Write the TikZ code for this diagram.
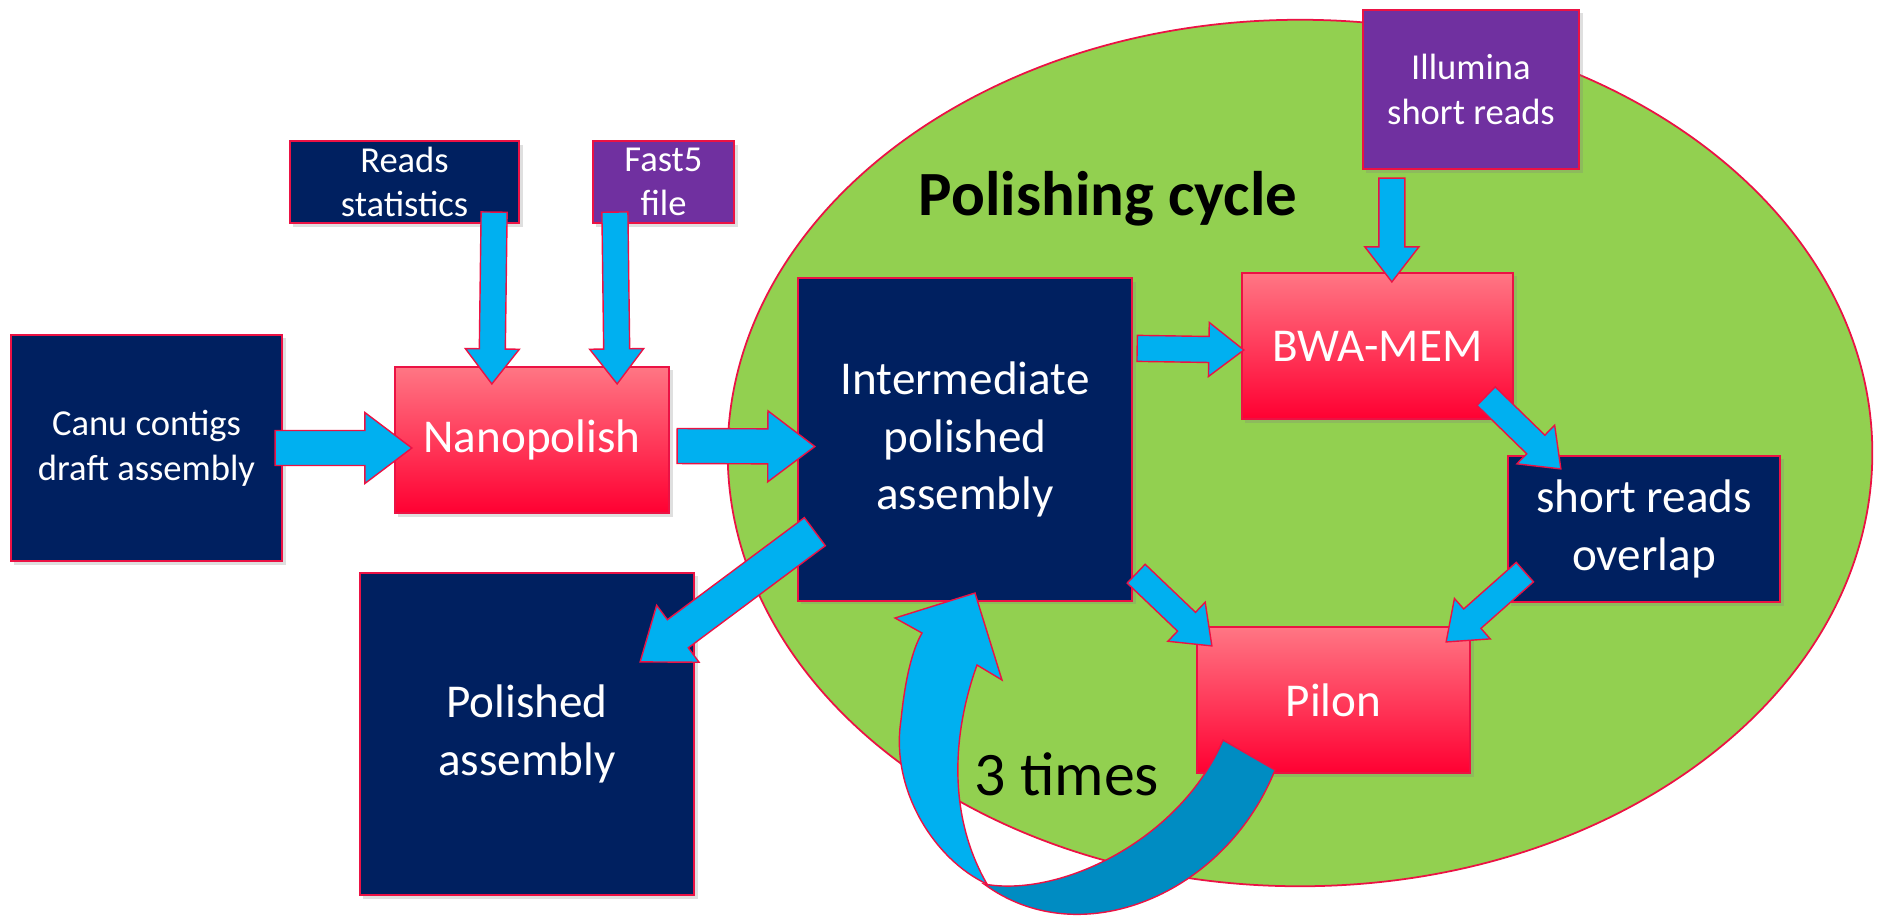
\documentclass[tikz,border=0pt]{standalone}
\usepackage{fontspec}
\setmainfont{Carlito}
\usepackage{tikz}
\usetikzlibrary{calc}
\usetikzlibrary{shapes.geometric,positioning,shadows}
\definecolor{navy}{RGB}{0,32,96}
\definecolor{plum}{RGB}{112,48,160}
\definecolor{skyblue}{RGB}{0,176,240}
\definecolor{deepsky}{RGB}{0,140,194}
\definecolor{leaf}{RGB}{146,208,80}
\definecolor{rim}{RGB}{235,18,68}
\definecolor{pinktop}{RGB}{255,118,132}
\definecolor{pinkbot}{RGB}{255,0,50}
\tikzset{
    boxbase/.style={
        rectangle,
        draw=rim,
        line width=0.6pt,
        inner sep=0pt,
        text=white,
        align=center,
        drop shadow={shadow xshift=1pt, shadow yshift=-1pt, opacity=0.25}
    },
    navybox/.style={boxbase, fill=navy},
    plumbox/.style={boxbase, fill=plum},
    pinkbox/.style={boxbase, top color=pinktop, bottom color=pinkbot},
    smalltext/.style={font=\fontsize{10.4}{12.7}\selectfont},
    bigtext/.style={font=\fontsize{13.4}{16.3}\selectfont},
    % the green cycle area
    cyclezone/.style={
        ellipse,
        draw=rim,
        fill=leaf,
        line width=0.5pt,
        inner sep=0pt
    },
    % fat blue arrows
    bluearrow/.style={
        fill=skyblue,
        draw=rim,
        line width=0.4pt,
        line join=miter
    }
}
% tail, tip, half shaft, half head, head length
\newcommand{\blockarrow}[5]{%
    \coordinate (ba-s) at (#1);
    \coordinate (ba-t) at (#2);
    \coordinate (ba-h) at ($(ba-t)!#5!(ba-s)$);
    \draw[bluearrow] ($(ba-s)!#3!90:(ba-t)$) -- ($(ba-h)!#3!90:(ba-t)$)
        -- ($(ba-h)!#4!90:(ba-t)$) -- (ba-t) -- ($(ba-h)!#4!-90:(ba-t)$)
        -- ($(ba-h)!#3!-90:(ba-t)$) -- ($(ba-s)!#3!-90:(ba-t)$) -- cycle;
}
\newcommand{\bigarrow}[2]{\blockarrow{#1}{#2}{0.175cm}{0.355cm}{0.47cm}}
\newcommand{\smallarrow}[2]{\blockarrow{#1}{#2}{0.13cm}{0.27cm}{0.35cm}}

\begin{document}
\begin{tikzpicture}[x=0.01cm, y=-0.01cm]
    \useasboundingbox[fill=white] (0,0) rectangle (1881,920);
    \node[cyclezone, minimum width=11.44cm, minimum height=8.66cm] (cycle) at (1300,453) {};
    \node[font=\fontsize{17.9}{20}\selectfont\bfseries, anchor=base] (cycletitle) at (1108,215) {Polishing cycle};

    \node[navybox, smalltext, minimum width=2.71cm, minimum height=2.26cm] (canu) at (146.5,448) {Canu contigs\\draft assembly};
    \node[navybox, smalltext, minimum width=2.29cm, minimum height=0.82cm] (reads) at (404.5,182) {Reads\\statistics};
    \node[plumbox, smalltext, minimum width=1.41cm, minimum height=0.82cm] (fast5) at (663.5,182) {Fast5\\file};
    \node[pinkbox, bigtext, minimum width=2.74cm, minimum height=1.46cm] (nano) at (532,440) {Nanopolish};
    \node[navybox, bigtext, minimum width=3.34cm, minimum height=3.22cm] (inter) at (965,439.5) {Intermediate\\polished\\assembly};
    \node[navybox, bigtext, minimum width=3.34cm, minimum height=3.22cm] (polished) at (527,734) {Polished\\assembly};
    \node[plumbox, smalltext, minimum width=2.16cm, minimum height=1.59cm] (illumina) at (1471,89.5) {Illumina\\short reads};
    \node[pinkbox, bigtext, minimum width=2.71cm, minimum height=1.46cm] (bwa) at (1377.5,346) {BWA-MEM};
    \node[navybox, bigtext, minimum width=2.72cm, minimum height=1.46cm] (short) at (1644,529) {short reads\\overlap};
    \node[pinkbox, bigtext, minimum width=2.73cm, minimum height=1.46cm] (pilon) at (1333.5,700) {Pilon};

    % into Nanopolish
    \bigarrow{$(canu.east)+(-8,0)$}{$(canu.east -| nano.west)+(18,0)$}
    \smallarrow{$(reads.south east)+(-26,-12)$}{$(nano.north west)+(98,18)$}
    \smallarrow{$(fast5.south west)+(23,-12)$}{$(nano.north east)+(-53,18)$}
    \bigarrow{$(nano.east)+(7,6)$}{$(inter.west)+(18,7)$}
    % the cycle
    \smallarrow{$(inter.north east)+(4,71)$}{$(bwa.west)+(3,4)$}
    \smallarrow{$(illumina.south west)+(30,8)$}{$(bwa.north west)+(151,10)$}
    \smallarrow{$(bwa.south east)+(-28,-24)$}{$(short.north west)+(54,14)$}
    \smallarrow{$(inter.south east)+(3,-28)$}{$(pilon.north west)+(16,20)$}
    \smallarrow{$(short.south west)+(18,-31)$}{$(pilon.north east)+(-25,16)$}
    \bigarrow{$(inter.south west)+(18,-70)$}{$(polished.north east)+(-55,90)$}

    % loop back from Pilon
    \draw[bluearrow, fill=deepsky] (984,884) .. controls (1060,898) and (1180,840) .. (1223,740)
        -- (1275,770) .. controls (1225,895) and (1080,955) .. (984,884) -- cycle;
    \draw[bluearrow] (975,593) -- (1002,680) -- (977,665)
        .. controls (950,740) and (950,820) .. (987,884)
        .. controls (935,860) and (890,790) .. (901,720)
        .. controls (905,680) and (912,650) .. (922,633) -- (895,618) -- cycle;
    \node[font=\fontsize{17.6}{20}\selectfont, anchor=base] (loopnote) at (1067,795) {3 times};
\end{tikzpicture}
\end{document}
